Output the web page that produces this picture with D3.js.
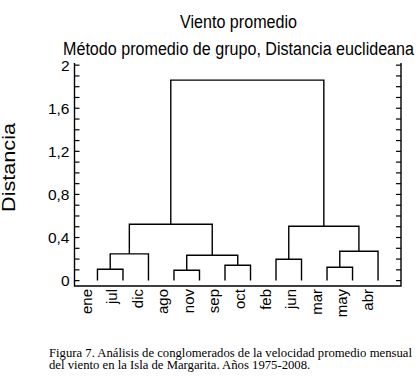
<!DOCTYPE html>
<html lang="es">
<head>
<meta charset="UTF-8">
<title>Viento promedio - dendrograma</title>
<script src="https://d3js.org/d3.v7.min.js"></script>
<style>
    body { margin: 0; background: #fff; }
    text { font-family: "Liberation Sans", Arial, sans-serif; }
    .link { fill: none; stroke: #000; stroke-width: 1.4; }
    .frame { stroke: #000; stroke-width: 1.4; fill: none; }
</style>
</head>
<body>
<svg width="418" height="376"></svg>
<script>
    // hojas del dendrograma, en el orden dibujado
    const months = ["ene", "jul", "dic", "ago", "nov", "sep", "oct", "feb", "jun", "mar", "may", "abr"];
    // uniones: [izquierda, derecha, distancia]; indices < 12 son hojas, >= 12 son uniones previas
    const merges = [
        [0, 1, 0.106],    // 12
        [12, 2, 0.248],   // 13
        [3, 4, 0.096],    // 14
        [5, 6, 0.143],    // 15
        [14, 15, 0.236],  // 16
        [13, 16, 0.523],  // 17
        [7, 8, 0.198],    // 18
        [9, 10, 0.124],   // 19
        [19, 11, 0.273],  // 20
        [18, 20, 0.504],  // 21
        [17, 21, 1.861]   // 22
    ];
    const majorTicks = [0, 0.4, 0.8, 1.2, 1.6, 2];
    const minorTicks = d3.range(0, 21).map(d => d / 10);

    const svg = d3.select("svg");
    const pLeft = 74.5, pRight = 401, pTop = 63, pBottom = 286;

    const x = d3.scalePoint().domain(months).range([pLeft, pRight]).padding(0.9);
    const y = d3.scaleLinear().domain([-0.05, 2.02]).range([pBottom, pTop]);

    // arbol a partir de las uniones
    const nodes = months.map(m => ({name: m, height: 0}));
    merges.forEach(([a, b, h]) => nodes.push({children: [nodes[a], nodes[b]], height: h}));
    const root = d3.hierarchy(nodes[nodes.length - 1]);
    root.eachAfter(n => {
        n.px = n.children ? d3.mean(n.children, c => c.px) : x(n.data.name);
        n.py = n.data.height;
    });

    const links = root.descendants().filter(n => n.children);

    svg.selectAll("path.link")
       .data(links)
          .join("path").attr("class", "link")
            .attr("d", n => {
                const [a, b] = n.children;
                return "M" + a.px + "," + y(a.py) + "V" + y(n.py) + "H" + b.px + "V" + y(b.py);
            });

    // marco: izquierda, abajo, derecha
    svg.append("path").attr("class", "frame")
       .attr("d", `M${pLeft},${pTop}V${pBottom}H${pRight}V${pTop}`);

    const tickLen = 5;
    svg.selectAll("line.tick")
       .data(minorTicks.flatMap(t => [[pLeft, t, 1], [pRight, t, -1]]))
          .join("line").attr("class", "tick")
            .attr("x1", d => d[0]).attr("x2", d => d[0] + d[2] * tickLen)
            .attr("y1", d => y(d[1])).attr("y2", d => y(d[1]))
            .attr("stroke", "#000").attr("stroke-width", 1.2);

    svg.selectAll("text.ylab")
       .data(majorTicks)
          .join("text").attr("class", "ylab")
            .attr("x", pLeft - 5).attr("y", d => y(d)).attr("dy", "0.36em")
            .attr("text-anchor", "end").attr("font-size", 15.5)
            .text(d => d3.format(".1~f")(d).replace(".", ","));

    svg.selectAll("text.month")
       .data(months)
          .join("text").attr("class", "month")
            .attr("transform", d => `translate(${x(d) - 5.5},${pBottom + 3}) rotate(-90)`)
            .attr("text-anchor", "end")
            .attr("font-size", 15)
            .text(d => d);

    svg.append("text")
       .attr("x", 180).attr("y", 28)
       .attr("font-size", 18)
       .attr("textLength", 117).attr("lengthAdjust", "spacingAndGlyphs")
       .text("Viento promedio");
    svg.append("text")
       .attr("x", 63).attr("y", 55)
       .attr("font-size", 18)
       .attr("textLength", 351).attr("lengthAdjust", "spacingAndGlyphs")
       .text("Método promedio de grupo, Distancia euclideana");

    svg.append("text")
       .attr("transform", "translate(15,212) rotate(-90)")
       .attr("font-size", 18)
       .attr("textLength", 89).attr("lengthAdjust", "spacingAndGlyphs")
       .text("Distancia");

    const caption = svg.append("text")
       .style("font-family", "'Liberation Serif', 'Times New Roman', serif")
       .attr("font-size", 12.7);
    caption.append("tspan").attr("x", 49).attr("y", 357)
       .text("Figura 7. Análisis de conglomerados de la velocidad promedio mensual");
    caption.append("tspan").attr("x", 49).attr("y", 369)
       .text("del viento en la Isla de Margarita. Años 1975-2008.");
</script>
</body>
</html>
